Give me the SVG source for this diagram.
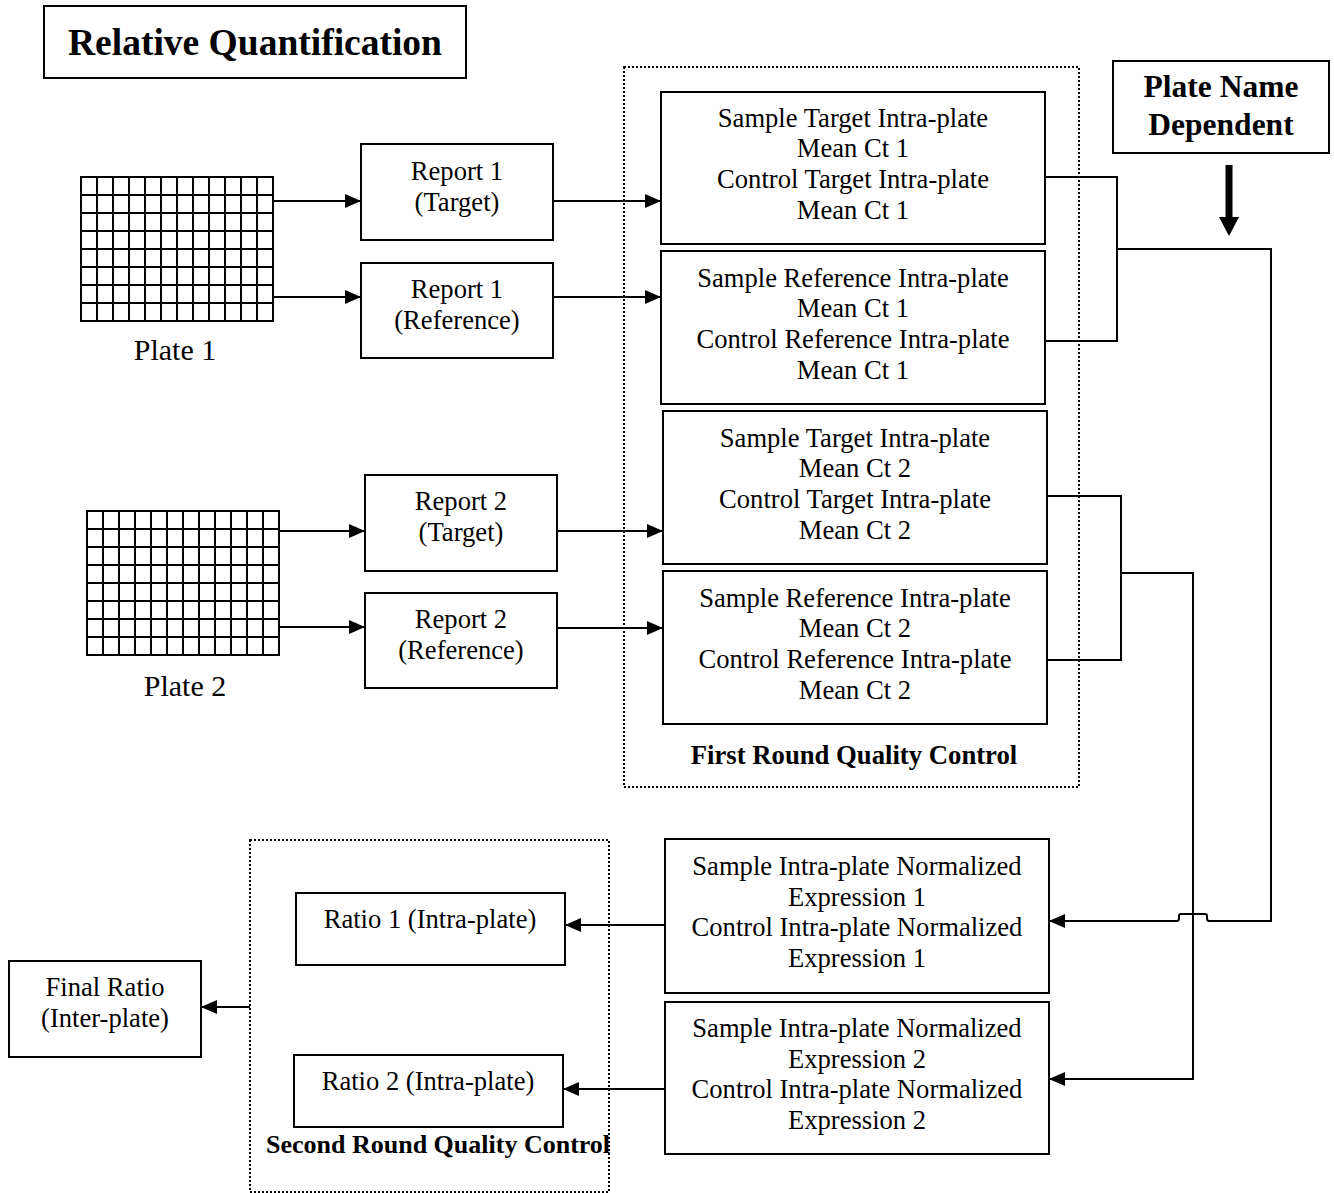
<svg xmlns="http://www.w3.org/2000/svg" width="1334" height="1193" viewBox="0 0 1334 1193">
<style>
.box{fill:#fff;stroke:#000;stroke-width:2}
.dot{fill:none;stroke:#000;stroke-width:2;stroke-dasharray:2 2}
.ln{fill:none;stroke:#000;stroke-width:2}
.t{font-family:"Liberation Serif","Times New Roman",serif;font-size:26.6px;text-anchor:middle;fill:#000}
.b{font-family:"Liberation Serif","Times New Roman",serif;font-weight:bold;text-anchor:middle;fill:#000}
</style>
<defs>
<marker id="ah" markerUnits="userSpaceOnUse" markerWidth="16" markerHeight="14" refX="16" refY="7" orient="auto">
<path d="M0,0 L16,7 L0,14 z" fill="#000"/>
</marker>
<g id="grid">
<rect x="0" y="0" width="192" height="144" fill="#fff" stroke="#000" stroke-width="2"/>
<path d="M16,0V144M32,0V144M48,0V144M64,0V144M80,0V144M96,0V144M112,0V144M128,0V144M144,0V144M160,0V144M176,0V144M0,18H192M0,36H192M0,54H192M0,72H192M0,90H192M0,108H192M0,126H192" stroke="#000" stroke-width="2" fill="none"/>
</g>
</defs>
<rect width="1334" height="1193" fill="#fff"/>

<g id="title">
<rect class="box" x="44" y="6" width="422" height="72"/>
<text class="b" x="255" y="55" font-size="37.5">Relative Quantification</text>
</g>

<g id="frame-first">
<rect class="dot" x="624" y="67" width="455" height="720"/>
<text class="b" x="854" y="764" font-size="26.7">First Round Quality Control</text>
</g>
<g id="frame-second">
<rect class="dot" x="250" y="840" width="359" height="352"/>
<text class="b" x="266" y="1153" font-size="26" style="text-anchor:start">Second Round Quality Control</text>
</g>

<g id="plate1">
<use href="#grid" x="81" y="177"/>
<text class="t" x="175" y="360" style="font-size:30px">Plate 1</text>
</g>
<g id="plate2">
<use href="#grid" x="87" y="511"/>
<text class="t" x="185" y="696" style="font-size:30px">Plate 2</text>
</g>

<g id="report1t">
<rect class="box" x="361" y="144" width="192" height="96"/>
<text class="t" x="457" y="180">Report 1</text>
<text class="t" x="457" y="211">(Target)</text>
</g>
<g id="report1r">
<rect class="box" x="361" y="263" width="192" height="95"/>
<text class="t" x="457" y="298">Report 1</text>
<text class="t" x="457" y="329">(Reference)</text>
</g>
<g id="report2t">
<rect class="box" x="365" y="475" width="192" height="96"/>
<text class="t" x="461" y="510">Report 2</text>
<text class="t" x="461" y="541">(Target)</text>
</g>
<g id="report2r">
<rect class="box" x="365" y="593" width="192" height="95"/>
<text class="t" x="461" y="628">Report 2</text>
<text class="t" x="461" y="659">(Reference)</text>
</g>

<g id="boxA">
<rect class="box" x="661" y="92" width="384" height="152"/>
<text class="t" x="853" y="127">Sample Target Intra-plate</text>
<text class="t" x="853" y="157">Mean Ct 1</text>
<text class="t" x="853" y="188">Control Target Intra-plate</text>
<text class="t" x="853" y="219">Mean Ct 1</text>
</g>
<g id="boxB">
<rect class="box" x="661" y="251" width="384" height="153"/>
<text class="t" x="853" y="287">Sample Reference Intra-plate</text>
<text class="t" x="853" y="317">Mean Ct 1</text>
<text class="t" x="853" y="348">Control Reference Intra-plate</text>
<text class="t" x="853" y="379">Mean Ct 1</text>
</g>
<g id="boxC">
<rect class="box" x="663" y="411" width="384" height="153"/>
<text class="t" x="855" y="447">Sample Target Intra-plate</text>
<text class="t" x="855" y="477">Mean Ct 2</text>
<text class="t" x="855" y="508">Control Target Intra-plate</text>
<text class="t" x="855" y="539">Mean Ct 2</text>
</g>
<g id="boxD">
<rect class="box" x="663" y="571" width="384" height="153"/>
<text class="t" x="855" y="607">Sample Reference Intra-plate</text>
<text class="t" x="855" y="637">Mean Ct 2</text>
<text class="t" x="855" y="668">Control Reference Intra-plate</text>
<text class="t" x="855" y="699">Mean Ct 2</text>
</g>

<g id="plateName">
<rect class="box" x="1113" y="61" width="216" height="92"/>
<text class="b" x="1221" y="97" font-size="31.5">Plate Name</text>
<text class="b" x="1221" y="135" font-size="31.5">Dependent</text>
</g>

<g id="boxE">
<rect class="box" x="665" y="839" width="384" height="154"/>
<text class="t" x="857" y="875">Sample Intra-plate Normalized</text>
<text class="t" x="857" y="906">Expression 1</text>
<text class="t" x="857" y="936">Control Intra-plate Normalized</text>
<text class="t" x="857" y="967">Expression 1</text>
</g>
<g id="boxF">
<rect class="box" x="665" y="1002" width="384" height="152"/>
<text class="t" x="857" y="1037">Sample Intra-plate Normalized</text>
<text class="t" x="857" y="1068">Expression 2</text>
<text class="t" x="857" y="1098">Control Intra-plate Normalized</text>
<text class="t" x="857" y="1129">Expression 2</text>
</g>

<g id="ratio1">
<rect class="box" x="296" y="893" width="269" height="72"/>
<text class="t" x="430" y="928">Ratio 1 (Intra-plate)</text>
</g>
<g id="ratio2">
<rect class="box" x="294" y="1055" width="269" height="72"/>
<text class="t" x="428" y="1090">Ratio 2 (Intra-plate)</text>
</g>
<g id="finalRatio">
<rect class="box" x="9" y="961" width="192" height="96"/>
<text class="t" x="105" y="996">Final Ratio</text>
<text class="t" x="105" y="1027">(Inter-plate)</text>
</g>

<g id="connectors">
<path class="ln" d="M273,201 H361" marker-end="url(#ah)"/>
<path class="ln" d="M273,297 H361" marker-end="url(#ah)"/>
<path class="ln" d="M279,531 H365" marker-end="url(#ah)"/>
<path class="ln" d="M279,627 H365" marker-end="url(#ah)"/>
<path class="ln" d="M553,201 H661" marker-end="url(#ah)"/>
<path class="ln" d="M553,297 H661" marker-end="url(#ah)"/>
<path class="ln" d="M557,531 H663" marker-end="url(#ah)"/>
<path class="ln" d="M557,628 H663" marker-end="url(#ah)"/>
<path class="ln" d="M1045,177 H1117 V341 H1045"/>
<path class="ln" d="M1117,249 H1271 V921 H1209 Q1207,921 1207,918 V916 Q1207,914 1205,914 H1181 Q1179,914 1179,916 V918 Q1179,921 1177,921 H1049" marker-end="url(#ah)"/>
<path class="ln" d="M1047,496 H1121 V660 H1047"/>
<path class="ln" d="M1121,573 H1193 V1079 H1049" marker-end="url(#ah)"/>
<path class="ln" d="M665,925 H565" marker-end="url(#ah)"/>
<path class="ln" d="M665,1089 H563" marker-end="url(#ah)"/>
<path class="ln" d="M250,1007 H201" marker-end="url(#ah)"/>
<path d="M1225.5,165 H1232.5 V217 H1239 L1229,236 L1219,217 H1225.5 Z" fill="#000"/>
</g>
</svg>
